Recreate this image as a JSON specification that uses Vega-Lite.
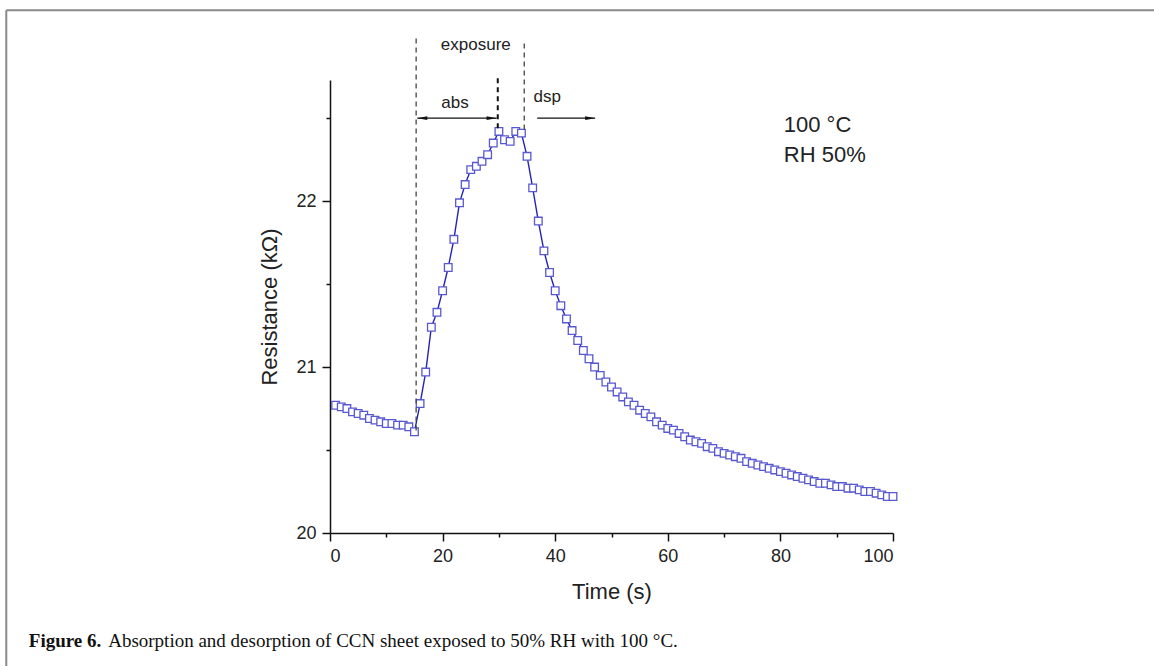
{
  "$schema": "https://vega.github.io/schema/vega-lite/v6.json",
  "width": 563,
  "height": 453,
  "autosize": {"type": "none"},
  "padding": {"left": 330, "top": 80, "right": 261, "bottom": 133},
  "background": "white",
  "config": {
    "view": {"stroke": null},
    "font": "Liberation Sans",
    "axis": {"domainColor": "#111", "domainWidth": 1.5, "tickColor": "#111", "tickWidth": 1.5, "labelColor": "#222", "titleColor": "#222", "labelFont": "Liberation Sans", "titleFont": "Liberation Sans", "titleFontWeight": "normal", "grid": false}
  },
  "datasets": {
    "series": [
      {"t": 1, "r": 20.77}, {"t": 2, "r": 20.76}, {"t": 3, "r": 20.75}, {"t": 4, "r": 20.73}, {"t": 5, "r": 20.72},
      {"t": 6, "r": 20.71}, {"t": 7, "r": 20.69}, {"t": 8, "r": 20.68}, {"t": 9, "r": 20.67}, {"t": 10, "r": 20.66},
      {"t": 11, "r": 20.66}, {"t": 12, "r": 20.65}, {"t": 13, "r": 20.65}, {"t": 14, "r": 20.64}, {"t": 15, "r": 20.61},
      {"t": 16, "r": 20.78}, {"t": 17, "r": 20.97}, {"t": 18, "r": 21.24}, {"t": 19, "r": 21.33}, {"t": 20, "r": 21.46},
      {"t": 21, "r": 21.6}, {"t": 22, "r": 21.77}, {"t": 23, "r": 21.99}, {"t": 24, "r": 22.1}, {"t": 25, "r": 22.19},
      {"t": 26, "r": 22.21}, {"t": 27, "r": 22.24}, {"t": 28, "r": 22.28}, {"t": 29, "r": 22.35}, {"t": 30, "r": 22.42},
      {"t": 31, "r": 22.37}, {"t": 32, "r": 22.36}, {"t": 33, "r": 22.42}, {"t": 34, "r": 22.41}, {"t": 35, "r": 22.27},
      {"t": 36, "r": 22.08}, {"t": 37, "r": 21.88}, {"t": 38, "r": 21.7}, {"t": 39, "r": 21.57}, {"t": 40, "r": 21.46},
      {"t": 41, "r": 21.37}, {"t": 42, "r": 21.29}, {"t": 43, "r": 21.22}, {"t": 44, "r": 21.16}, {"t": 45, "r": 21.1},
      {"t": 46, "r": 21.05}, {"t": 47, "r": 21.0}, {"t": 48, "r": 20.95}, {"t": 49, "r": 20.91}, {"t": 50, "r": 20.88},
      {"t": 51, "r": 20.85}, {"t": 52, "r": 20.82}, {"t": 53, "r": 20.79}, {"t": 54, "r": 20.77}, {"t": 55, "r": 20.74},
      {"t": 56, "r": 20.72}, {"t": 57, "r": 20.7}, {"t": 58, "r": 20.67}, {"t": 59, "r": 20.65}, {"t": 60, "r": 20.63},
      {"t": 61, "r": 20.62}, {"t": 62, "r": 20.6}, {"t": 63, "r": 20.58}, {"t": 64, "r": 20.56}, {"t": 65, "r": 20.55},
      {"t": 66, "r": 20.54}, {"t": 67, "r": 20.52}, {"t": 68, "r": 20.51}, {"t": 69, "r": 20.49}, {"t": 70, "r": 20.48},
      {"t": 71, "r": 20.47}, {"t": 72, "r": 20.46}, {"t": 73, "r": 20.45}, {"t": 74, "r": 20.43}, {"t": 75, "r": 20.42},
      {"t": 76, "r": 20.41}, {"t": 77, "r": 20.4}, {"t": 78, "r": 20.39}, {"t": 79, "r": 20.38}, {"t": 80, "r": 20.37},
      {"t": 81, "r": 20.36}, {"t": 82, "r": 20.35}, {"t": 83, "r": 20.34}, {"t": 84, "r": 20.33}, {"t": 85, "r": 20.32},
      {"t": 86, "r": 20.31}, {"t": 87, "r": 20.3}, {"t": 88, "r": 20.3}, {"t": 89, "r": 20.29}, {"t": 90, "r": 20.28},
      {"t": 91, "r": 20.28}, {"t": 92, "r": 20.27}, {"t": 93, "r": 20.27}, {"t": 94, "r": 20.26}, {"t": 95, "r": 20.25},
      {"t": 96, "r": 20.25}, {"t": 97, "r": 20.24}, {"t": 98, "r": 20.23}, {"t": 99, "r": 20.22}, {"t": 100, "r": 20.22}
    ],
    "outerLines": [
      {"t": 15.3, "top": 22.98, "bottom": 20.61},
      {"t": 34.5, "top": 22.95, "bottom": 22.43}
    ],
    "midLine": [
      {"t": 29.8, "top": 22.74, "bottom": 22.43}
    ],
    "arrows": [
      {"from": 15.5, "to": 29.6, "r": 22.5},
      {"from": 36.8, "to": 47.1, "r": 22.5}
    ],
    "headsRight": [
      {"t": 28.7, "r": 22.5},
      {"t": 46.2, "r": 22.5}
    ],
    "headsLeft": [
      {"t": 16.4, "r": 22.5}
    ],
    "centerLabels": [
      {"label": "exposure", "t": 25.9, "r": 22.94},
      {"label": "abs", "t": 22.2, "r": 22.59},
      {"label": "dsp", "t": 38.6, "r": 22.63}
    ],
    "condLabels": [
      {"label": "100 °C", "t": 80.6, "r": 22.46},
      {"label": "RH 50%", "t": 80.6, "r": 22.28}
    ]
  },
  "layer": [
    {
      "data": {"name": "series"},
      "mark": {"type": "line", "color": "#2323b8", "strokeWidth": 1.4},
      "encoding": {
        "x": {"field": "t", "type": "quantitative", "scale": {"domain": [0, 100], "nice": false, "zero": false},
          "axis": {"values": [0, 10, 20, 30, 40, 50, 60, 70, 80, 90, 100], "labelExpr": "datum.value % 20 === 0 ? datum.label : ''", "tickSize": {"condition": {"test": "datum.value % 20 === 0", "value": 8}, "value": 4}, "labelFontSize": 18, "labelPadding": 6, "title": "Time (s)", "titleFontSize": 22, "titlePadding": 16}},
        "y": {"field": "r", "type": "quantitative", "scale": {"domain": [20, 22.73], "nice": false, "zero": false},
          "axis": {"values": [20, 20.5, 21, 21.5, 22, 22.5], "labelExpr": "datum.value % 1 === 0 ? format(datum.value, 'd') : ''", "tickSize": {"condition": {"test": "datum.value % 1 === 0", "value": 8}, "value": 4}, "labelFontSize": 18, "labelPadding": 6, "title": "Resistance (kΩ)", "titleFontSize": 22, "titlePadding": 14}}
      }
    },
    {
      "data": {"name": "series"},
      "mark": {"type": "point", "shape": "square", "filled": true, "fill": "white", "stroke": "#5858d0", "strokeWidth": 1.3, "size": 58, "opacity": 1},
      "encoding": {
        "x": {"field": "t", "type": "quantitative"},
        "y": {"field": "r", "type": "quantitative"}
      }
    },
    {
      "data": {"name": "outerLines"},
      "mark": {"type": "rule", "color": "#444", "strokeWidth": 1.3, "strokeDash": [5, 4]},
      "encoding": {
        "x": {"field": "t", "type": "quantitative"},
        "y": {"field": "top", "type": "quantitative"},
        "y2": {"field": "bottom"}
      }
    },
    {
      "data": {"name": "midLine"},
      "mark": {"type": "rule", "color": "#111", "strokeWidth": 2, "strokeDash": [5, 4]},
      "encoding": {
        "x": {"field": "t", "type": "quantitative"},
        "y": {"field": "top", "type": "quantitative"},
        "y2": {"field": "bottom"}
      }
    },
    {
      "data": {"name": "arrows"},
      "mark": {"type": "rule", "color": "#111", "strokeWidth": 1.3},
      "encoding": {
        "x": {"field": "from", "type": "quantitative"},
        "x2": {"field": "to"},
        "y": {"field": "r", "type": "quantitative"}
      }
    },
    {
      "data": {"name": "headsRight"},
      "mark": {"type": "point", "shape": "M -1 -0.38 L 1 0 L -1 0.38 Z", "filled": true, "color": "#111", "size": 100, "opacity": 1},
      "encoding": {
        "x": {"field": "t", "type": "quantitative"},
        "y": {"field": "r", "type": "quantitative"}
      }
    },
    {
      "data": {"name": "headsLeft"},
      "mark": {"type": "point", "shape": "M 1 -0.38 L -1 0 L 1 0.38 Z", "filled": true, "color": "#111", "size": 100, "opacity": 1},
      "encoding": {
        "x": {"field": "t", "type": "quantitative"},
        "y": {"field": "r", "type": "quantitative"}
      }
    },
    {
      "data": {"name": "centerLabels"},
      "mark": {"type": "text", "align": "center", "baseline": "middle", "fontSize": 17, "color": "#222"},
      "encoding": {
        "x": {"field": "t", "type": "quantitative"},
        "y": {"field": "r", "type": "quantitative"},
        "text": {"field": "label"}
      }
    },
    {
      "data": {"name": "condLabels"},
      "mark": {"type": "text", "align": "left", "baseline": "middle", "fontSize": 22, "color": "#222"},
      "encoding": {
        "x": {"field": "t", "type": "quantitative"},
        "y": {"field": "r", "type": "quantitative"},
        "text": {"field": "label"}
      }
    },
    {
      "data": {"values": [{}]},
      "mark": {"type": "rule", "color": "#8a8a8a", "strokeWidth": 2},
      "encoding": {
        "x": {"datum": -57.5},
        "x2": {"datum": 147},
        "y": {"datum": 23.15}
      }
    },
    {
      "data": {"values": [{}]},
      "mark": {"type": "rule", "color": "#8a8a8a", "strokeWidth": 2},
      "encoding": {
        "x": {"datum": -57.5},
        "y": {"datum": 23.15},
        "y2": {"datum": 19.1}
      }
    },
    {
      "data": {"values": [{"label": "Figure 6."}]},
      "mark": {"type": "text", "align": "left", "baseline": "middle", "font": "Liberation Serif", "fontWeight": "bold", "fontSize": 19, "color": "#111"},
      "encoding": {
        "x": {"datum": -53.5},
        "y": {"datum": 19.35},
        "text": {"field": "label"}
      }
    },
    {
      "data": {"values": [{"label": "Absorption and desorption of CCN sheet exposed to 50% RH with 100 °C."}]},
      "mark": {"type": "text", "align": "left", "baseline": "middle", "font": "Liberation Serif", "fontSize": 19, "color": "#111"},
      "encoding": {
        "x": {"datum": -39.4},
        "y": {"datum": 19.35},
        "text": {"field": "label"}
      }
    }
  ]
}
